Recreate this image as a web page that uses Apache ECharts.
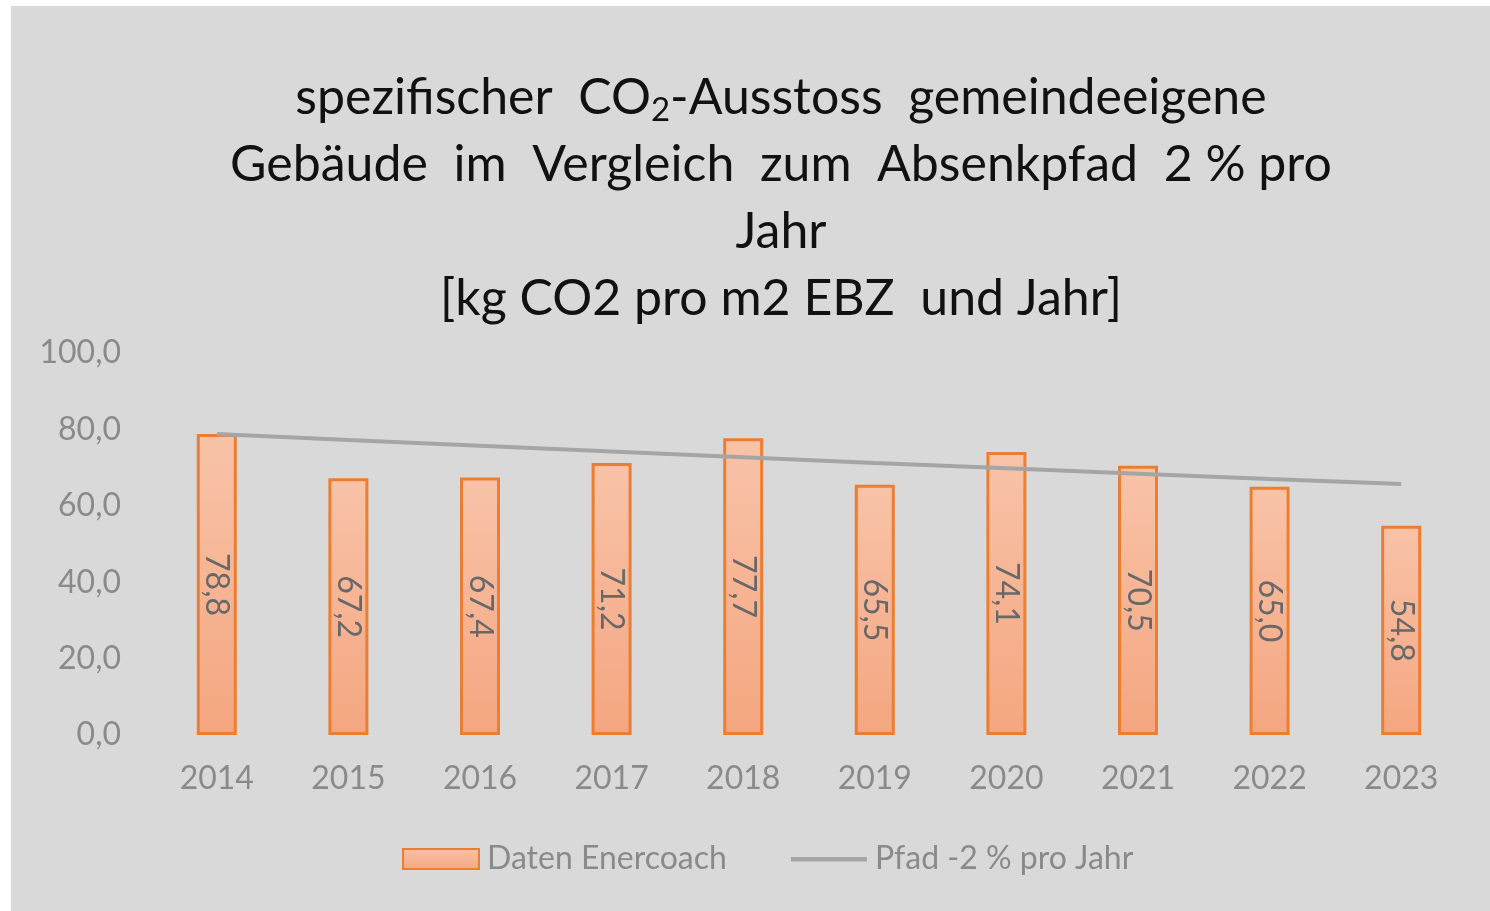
<!DOCTYPE html>
<html>
<head>
<meta charset="utf-8">
<script src="https://cdn.jsdelivr.net/npm/echarts@6/dist/echarts.min.js"></script>
<style>
html,body{margin:0;padding:0;background:#ffffff;width:1490px;height:911px;overflow:hidden;}
#chart{position:absolute;left:11px;top:6px;width:1479px;height:905px;}
</style>
</head>
<body>
<div id="chart"></div>
<script>
const years = ['2014','2015','2016','2017','2018','2019','2020','2021','2022','2023'];
const datenEnercoach = [78.8, 67.2, 67.4, 71.2, 77.7, 65.5, 74.1, 70.5, 65.0, 54.8];
const pfad = [78.8, 77.2, 75.7, 74.2, 72.7, 71.2, 69.8, 68.4, 67.0, 65.7];
const yTicks = [0, 20, 40, 60, 80, 100];

const FONT = 'Lato';
const fmt = v => v.toFixed(1).replace('.', ',');

const chart = echarts.init(document.getElementById('chart'));
chart.setOption({
  backgroundColor: '#d9d9d9',
  animation: false,
  title: {
    text: '{t|spezifischer  CO}{s|2}{t|-Ausstoss  gemeindeeigene}\n{t|Gebäude  im  Vergleich  zum  Absenkpfad  2 % pro}\n{t|Jahr}\n{t|[kg CO2 pro m2 EBZ  und Jahr]}',
    left: 770,
    textAlign: 'center',
    top: 58,
    padding: 0,
    textStyle: {
      rich: {
        t: {fontFamily: FONT, fontSize: 50, fontWeight: 'normal', color: '#111111', lineHeight: 67},
        s: {fontFamily: FONT, fontSize: 33, fontWeight: 'normal', color: '#111111', lineHeight: 67, padding: [26, 0, 0, 0]}
      }
    }
  },
  grid: {left: 140, right: 23, top: 347, bottom: 176, containLabel: false},
  legend: {
    top: 832,
    left: 386,
    itemWidth: 76,
    itemHeight: 20,
    itemGap: 64,
    textStyle: {fontFamily: FONT, fontSize: 32, color: '#8a8a8a', padding: [0, 0, 0, 3]},
    data: [
      {name: 'Daten Enercoach', icon: 'rect'},
      {name: 'Pfad -2 % pro Jahr', icon: 'path://M0,0M0,8L76,8L76,12.5L0,12.5ZM76,20', itemStyle: {color: '#a5a5a5', borderWidth: 0}}
    ]
  },
  xAxis: {
    type: 'category',
    data: years,
    axisLine: {show: false},
    axisTick: {show: false},
    axisLabel: {fontFamily: FONT, fontSize: 32, color: '#8a8a8a', margin: 28}
  },
  yAxis: {
    type: 'value',
    min: yTicks[0],
    max: yTicks[yTicks.length - 1],
    interval: 20,
    splitLine: {show: false},
    axisLine: {show: false},
    axisTick: {show: false},
    axisLabel: {fontFamily: FONT, fontSize: 32, color: '#8a8a8a', margin: 30, formatter: v => fmt(v)}
  },
  series: [
    {
      name: 'Daten Enercoach',
      type: 'bar',
      data: datenEnercoach,
      barWidth: 40,
      itemStyle: {
        color: new echarts.graphic.LinearGradient(0, 0, 0, 1, [
          {offset: 0, color: '#f8c3a8'},
          {offset: 1, color: '#f4a680'}
        ]),
        borderColor: '#ed7d31',
        borderWidth: 3
      },
      label: {
        show: true,
        position: 'inside',
        rotate: -90,
        fontFamily: FONT,
        fontSize: 32,
        color: '#686868',
        formatter: p => fmt(p.value)
      },
      z: 2
    },
    {
      name: 'Pfad -2 % pro Jahr',
      type: 'line',
      data: pfad,
      symbol: 'none',
      lineStyle: {color: '#a5a5a5', width: 4},
      itemStyle: {color: '#a5a5a5'},
      z: 3
    }
  ]
});
</script>
</body>
</html>
